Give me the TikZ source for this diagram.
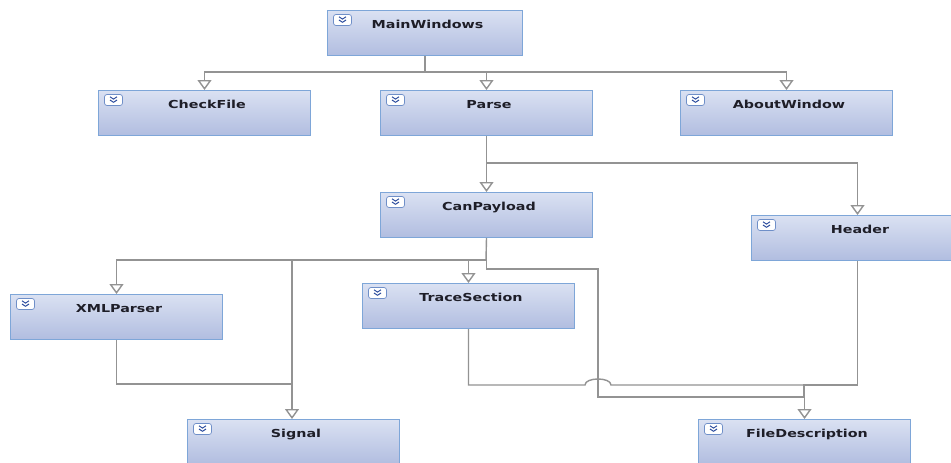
\documentclass[tikz,border=0pt]{standalone}
\usepackage{fontspec}
\setmainfont{DejaVu Sans}
\usetikzlibrary{arrows.meta}
\definecolor{boxtop}{HTML}{DAE1F2}
\definecolor{boxbot}{HTML}{B1BDE0}
\definecolor{boxborder}{HTML}{7EA6D8}
\definecolor{iconborder}{HTML}{6F8FC8}
\definecolor{chev}{HTML}{2F4F9F}
\definecolor{linegrey}{HTML}{939393}
\definecolor{txt}{HTML}{1E1E28}
\tikzset{
  cls/.style={draw=boxborder, line width=1pt, top color=boxtop, bottom color=boxbot,
    minimum width=212pt, minimum height=45pt, inner sep=0pt,
    text height=18pt, text depth=27pt, anchor=north west, text=txt,
    font=\bfseries\fontsize{11}{13}\selectfont,
    path picture={
      \draw[draw=iconborder, fill=white, rounded corners=2.5pt, line width=0.7pt]
        ([shift={(6pt,-4pt)}]path picture bounding box.north west) rectangle ++(18pt,-11pt);
      \draw[chev, line width=1pt]
        ([shift={(11.5pt,-6.3pt)}]path picture bounding box.north west) -- ++(3.5pt,-2.3pt) -- ++(3.5pt,2.3pt);
      \draw[chev, line width=1pt]
        ([shift={(11.5pt,-9.5pt)}]path picture bounding box.north west) -- ++(3.5pt,-2.3pt) -- ++(3.5pt,2.3pt);
    }},
  conn/.style={draw=linegrey, line width=1.4pt},
  arr/.style={conn, -{Triangle[open, length=10pt, width=14pt, fill=white]}},
}
\newcommand{\lbl}[1]{\hspace*{5pt}\scalebox{1.3}[1]{#1}}
\begin{document}
\begin{tikzpicture}[x=1pt, y=-1pt]
\useasboundingbox (0,0) rectangle (951,463);
\clip (0,0) rectangle (951,463);
\fill[white] (0,0) rectangle (951,463);

\node[cls, minimum width=195pt] (mw) at (327,10) {\lbl{MainWindows}};
\node[cls] (cf) at (98,90) {\lbl{CheckFile}};
\node[cls] (pa) at (380,90) {\lbl{Parse}};
\node[cls] (ab) at (680,90) {\lbl{AboutWindow}};
\node[cls] (cp) at (380,192) {\lbl{CanPayload}};
\node[cls] (hd) at (751,215) {\lbl{Header}};
\node[cls] (xp) at (10,294) {\lbl{XMLParser}};
\node[cls] (ts) at (362,283) {\lbl{TraceSection}};
\node[cls] (sg) at (187,419) {\lbl{Signal}};
\node[cls] (fd) at (698,419) {\lbl{FileDescription}};

\coordinate (j1) at (425,72);
\coordinate (j2) at (486,163);
\coordinate (j3) at (486,260);
\coordinate (s1) at (292,260);
\coordinate (s2) at (292,384);
\coordinate (k1) at (598,269);
\coordinate (k2) at (598,397);
\coordinate (h1) at (585,385);
\coordinate (h2) at (611,385);
\coordinate (f1) at (804,385);

% MainWindows
\draw[conn] (mw.south -| j1) -- (j1);
\draw[arr] (j1) -| (cf.north);
\draw[arr] (j1) -| (pa.north);
\draw[arr] (j1) -| (ab.north);
% Parse
\draw[arr] (pa.south) -- (cp.north);
\draw[arr] (j2) -| (hd.north);
% CanPayload
\draw[conn] (cp.south) -- (j3);
\draw[arr] (j3) -| (xp.north);
\draw[arr] (j3) -| (ts.north);
\draw[arr] (s1) -- (s1 |- sg.north);
\draw[arr] (cp.south) |- (k1) -- (k2) -| (fd.north);
% XMLParser -> Signal
\draw[conn] (xp.south) |- (s2);
% TraceSection, Header -> FileDescription
\draw[conn] (ts.south) |- (h1) .. controls (585,377) and (611,377) .. (h2) -- (f1);
\draw[conn] (hd.south) |- (f1) -- (f1 |- k2);
\end{tikzpicture}
\end{document}
